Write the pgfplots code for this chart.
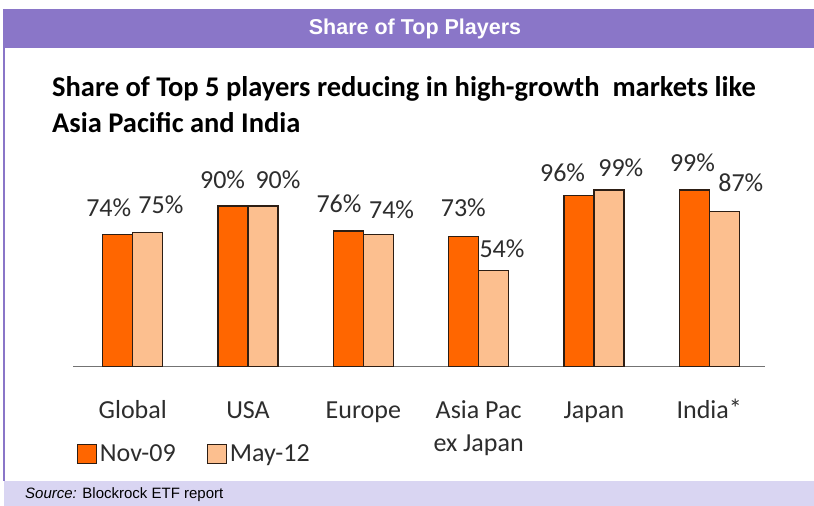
\documentclass[border=0pt]{standalone}
\usepackage{fontspec}
\setmainfont{Carlito}
\newfontfamily\arialfont{Liberation Sans}
\usepackage{pgfplots}
\pgfplotsset{compat=1.18}

\definecolor{hdrpurple}{RGB}{138,118,200}
\definecolor{ftrlav}{RGB}{217,213,242}
\definecolor{novorange}{RGB}{255,102,0}
\definecolor{maypeach}{RGB}{252,191,143}
\definecolor{baredge}{RGB}{45,30,20}
\definecolor{labtext}{RGB}{45,45,45}

\pgfplotsset{
  sqbar/.style={
    ybar, bar width=30pt, draw=baredge, line width=1.3pt,
    legend image code/.code={%
      \draw[##1,/tikz/.cd,line width=1.2pt] (0pt,-2pt) rectangle (19pt,17pt);}
  }
}

\begin{document}
\begin{tikzpicture}[x=1pt,y=1pt]
\path (0,0) rectangle (814,506);
% frame: header, footer, left rule
\fill[hdrpurple] (3,458) rectangle (814,497);
\fill[ftrlav] (4,0) rectangle (814,25);
\draw[hdrpurple, line width=2pt] (4,25) -- (4,458);
\node[text=white, font=\arialfont\bfseries\fontsize{21.5}{25}\selectfont] at (415,477) {Share of Top Players};
\node[anchor=base west, inner sep=0, font=\arialfont\fontsize{15}{18}\selectfont] at (25,7) {\textit{Source:} Blockrock ETF report};
% chart title
\node[anchor=base west, inner sep=0, font=\bfseries\fontsize{28.5}{34}\selectfont] at (52,409.3) {Share of Top 5 players reducing in high-growth\ \ markets like};
\node[anchor=base west, inner sep=0, font=\bfseries\fontsize{28.5}{34}\selectfont] at (52,373) {Asia Pacific and India};

\begin{axis}[
    at={(73pt,139.3pt)}, anchor=south west,
    x=115.3pt, y=1.785pt,
    xmin=-0.518, xmax=5.486,
    ymin=0, ymax=110,
    axis x line=bottom, axis y line=none,
    axis line style={-, draw=black!55, line width=1.6pt},
    xtick={0,...,5},
    xticklabels={Global,USA,Europe,{\begin{tabular}[t]{@{}c@{}}Asia Pac\\ex Japan\end{tabular}},Japan,India\raisebox{1pt}{*}},
    major tick length=0pt,
    xticklabel style={font=\fontsize{26}{33}\selectfont, text=labtext, anchor=base, inner sep=0pt, yshift=-51.6pt},
    clip=false,
    legend columns=2,
    legend style={at={(0.0015,-0.442)}, anchor=west, draw=none, fill=none,
        font=\fontsize{26}{30}\selectfont, text=labtext,
        cells={anchor=base west},
        nodes={inner sep=1.5pt},
        /tikz/every odd column/.append style={column sep=1pt},
        /tikz/every even column/.append style={column sep=30pt}},
]
\addplot[sqbar, bar shift=-15pt, fill=novorange] coordinates {
    (0,74) (1,90) (2,76) (3,73) (4,96) (5,99)
};
\addlegendentry{Nov-09}
\addplot[sqbar, bar shift=15pt, fill=maypeach] coordinates {
    (0,75) (1,90) (2,74) (3,54) (4,99) (5,87)
};
\addlegendentry{May-12}

% value labels, placed as in the original
\addplot[draw=none, mark=none, forget plot,
    point meta=explicit symbolic, nodes near coords,
    nodes near coords style={anchor=base, inner sep=0pt, text=labtext, font=\fontsize{26}{30}\selectfont}]
coordinates {
    (-0.208, 84.0) [74\%]
    (0.244, 85.9) [75\%]
    (0.779, 99.9) [90\%]
    (1.260, 99.9) [90\%]
    (1.789, 86.3) [76\%]
    (2.245, 83.1) [74\%]
    (2.867, 84.0) [73\%]
    (3.203, 60.9) [54\%]
    (3.728, 103.6) [96\%]
    (4.233, 106.4) [99\%]
    (4.855, 109.2) [99\%]
    (5.274, 98.0) [87\%]
};
\end{axis}
\end{tikzpicture}
\end{document}
